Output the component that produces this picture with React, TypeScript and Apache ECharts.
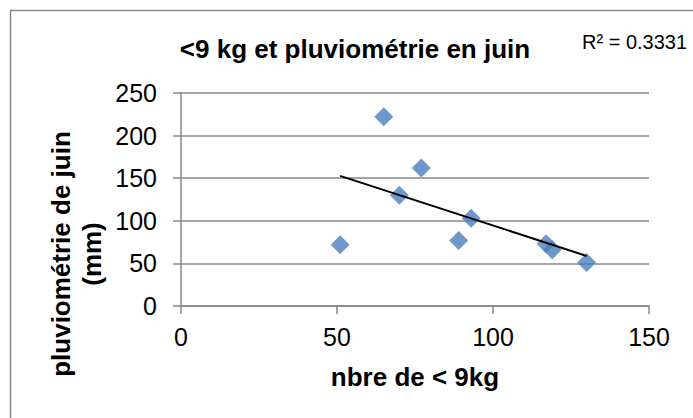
import React, { useEffect, useRef } from "react";
import * as echarts from "echarts";

const xValues = [51, 65, 70, 77, 89, 93, 117, 119, 130];
const yValues = [72, 222, 130, 162, 77, 103, 73, 66, 51];
const titleText = "<9 kg et pluviométrie en juin";
const r2Text = "R² = 0.3331";
const xAxisTitle = "nbre de < 9kg";
const yAxisTitle = "pluviométrie de juin\n(mm)";

function linearFit(xs: number[], ys: number[]) {
  const n = xs.length;
  const mx = xs.reduce((a, b) => a + b, 0) / n;
  const my = ys.reduce((a, b) => a + b, 0) / n;
  let sxy = 0;
  let sxx = 0;
  for (let i = 0; i < n; i++) {
    sxy += (xs[i] - mx) * (ys[i] - my);
    sxx += (xs[i] - mx) * (xs[i] - mx);
  }
  const slope = sxy / sxx;
  const intercept = my - slope * mx;
  return { slope, intercept };
}

export default function App() {
  const ref = useRef<HTMLDivElement>(null);
  useEffect(() => {
    if (!ref.current) return;
    const chart = echarts.init(ref.current, null, { renderer: "svg" });
    const { slope, intercept } = linearFit(xValues, yValues);
    const xmin = Math.min(...xValues);
    const xmax = Math.max(...xValues);
    const trend = [
      [xmin, intercept + slope * xmin],
      [xmax, intercept + slope * xmax],
    ];
    const gray = "#878787";
    const font = "'Liberation Sans', Arial, sans-serif";
    chart.setOption({
      animation: false,
      backgroundColor: "#ffffff",
      grid: { left: 181, right: 44, top: 93, bottom: 112, containLabel: false },
      xAxis: {
        type: "value",
        min: 0,
        max: 150,
        interval: 50,
        axisLine: { show: true, lineStyle: { color: gray, width: 1.5 } },
        axisTick: { show: true, length: 8, inside: false, lineStyle: { color: gray, width: 1.5 } },
        splitLine: { show: false },
        axisLabel: { color: "#000", fontSize: 25, fontFamily: font, margin: 18 },
      },
      yAxis: {
        type: "value",
        min: 0,
        max: 250,
        interval: 50,
        axisLine: { show: true, lineStyle: { color: gray, width: 1.5 } },
        axisTick: { show: true, length: 8, inside: false, lineStyle: { color: gray, width: 1.5 } },
        splitLine: { show: true, lineStyle: { color: gray, width: 1.5 } },
        axisLabel: { color: "#000", fontSize: 25, fontFamily: font, margin: 24 },
      },
      series: [
        {
          type: "scatter",
          data: xValues.map((x, i) => [x, yValues[i]]),
          symbol: "diamond",
          symbolSize: 19,
          itemStyle: { color: "#4A7EBB" },
          z: 3,
        },
        {
          type: "line",
          data: trend,
          showSymbol: false,
          symbol: "none",
          lineStyle: { color: "#000", width: 2 },
          z: 4,
        },
      ],
      graphic: [
        {
          type: "rect",
          shape: { x: 10.5, y: 10.5, width: 720, height: 460 },
          style: { fill: "none", stroke: "#8a8a8a", lineWidth: 1.5 },
          z: 0,
        },
        {
          type: "text",
          x: 355,
          y: 49,
          style: {
            text: titleText,
            font: `bold 26px ${font}`,
            fill: "#000",
            textAlign: "center",
            textVerticalAlign: "middle",
          },
        },
        {
          type: "text",
          x: 582,
          y: 42,
          style: {
            text: r2Text,
            font: `20px ${font}`,
            fill: "#000",
            textAlign: "left",
            textVerticalAlign: "middle",
          },
        },
        {
          type: "text",
          x: 415,
          y: 377,
          style: {
            text: xAxisTitle,
            font: `bold 26px ${font}`,
            fill: "#000",
            textAlign: "center",
            textVerticalAlign: "middle",
          },
        },
        {
          type: "text",
          x: 76,
          y: 254,
          rotation: Math.PI / 2,
          style: {
            text: yAxisTitle,
            font: `bold 26px ${font}`,
            fill: "#000",
            textAlign: "center",
            textVerticalAlign: "middle",
            lineHeight: 31,
          },
        },
      ],
    });
    return () => chart.dispose();
  }, []);
  return (
    <div
      ref={ref}
      style={{ position: "fixed", left: 0, top: 0, width: 693, height: 418 }}
    />
  );
}
